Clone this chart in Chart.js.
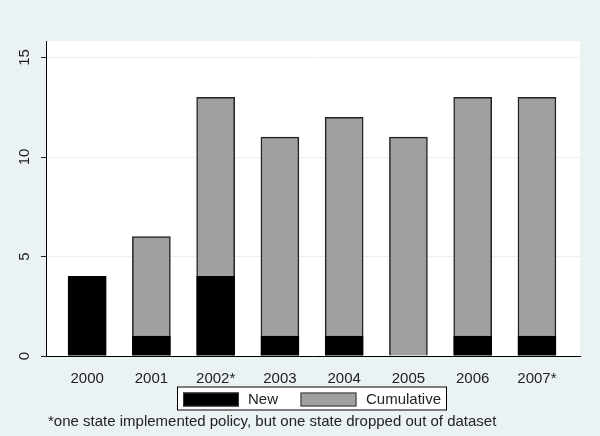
<!DOCTYPE html>
<html>
<head>
<meta charset="utf-8">
<script src="https://cdn.jsdelivr.net/npm/chart.js@4.4.1/dist/chart.umd.min.js"></script>
<style>
    html, body { margin: 0; padding: 0; background: #eaf2f3; }
    canvas { display: block; }
</style>
</head>
<body>
<canvas id="policy-chart" width="600" height="436"></canvas>
<script>
// --- данные ---
const years = ['2000', '2001', '2002*', '2003', '2004', '2005', '2006', '2007*'];
const newStates = [4, 1, 4, 1, 1, 0, 1, 1];
const cumulativeStates = [4, 6, 13, 11, 12, 11, 13, 13];
const yTicks = [0, 5, 10, 15];
const footnote = '*one state implemented policy, but one state dropped out of dataset';

const FONT = '"Liberation Sans", Arial, sans-serif';

// фон, белая область графика, подписи оси Y, легенда и сноска
const stataLook = {
    id: 'stataLook',
    beforeDraw(chart) {
        const { ctx, chartArea: a } = chart;
        ctx.save();
        ctx.fillStyle = '#eaf2f3';
        ctx.fillRect(0, 0, chart.width, chart.height);
        ctx.fillStyle = '#ffffff';
        ctx.fillRect(a.left, a.top, a.right - a.left, a.bottom - a.top);
        ctx.restore();
    },
    afterDraw(chart) {
        const { ctx } = chart;
        const yScale = chart.scales.y;
        ctx.save();
        ctx.fillStyle = '#222';
        ctx.font = '15px ' + FONT;
        ctx.textAlign = 'center';
        ctx.textBaseline = 'middle';
        yTicks.forEach(v => {
            ctx.save();
            ctx.translate(25, yScale.getPixelForValue(v));
            ctx.rotate(-Math.PI / 2);
            ctx.fillText(String(v), 0, 0);
            ctx.restore();
        });

        // легенда в рамке
        const box = { x: 177, y: 386.5, w: 270, h: 24 };
        ctx.fillStyle = '#fff';
        ctx.fillRect(box.x, box.y, box.w, box.h);
        ctx.strokeStyle = '#000';
        ctx.lineWidth = 1;
        ctx.strokeRect(box.x + 0.5, box.y + 0.5, box.w - 1, box.h - 1);

        const items = [
            { sx: 183, tx: 248 },
            { sx: 300.5, tx: 366 }
        ];
        chart.data.datasets.forEach((ds, i) => {
            const it = items[i];
            ctx.fillStyle = ds.backgroundColor;
            ctx.fillRect(it.sx, 392.5, 56, 14);
            ctx.strokeStyle = '#333';
            ctx.strokeRect(it.sx + 0.5, 393, 55, 13);
            ctx.fillStyle = '#222';
            ctx.textAlign = 'left';
            ctx.fillText(ds.label, it.tx, 399.5);
        });

        ctx.textAlign = 'left';
        ctx.fillText(footnote, 48, 422);
        ctx.restore();
    }
};

new Chart(document.getElementById('policy-chart'), {
    type: 'bar',
    data: {
        labels: years,
        datasets: [
            {
                label: 'New',
                data: newStates.map((v, i) => ({ x: i, y: v })),
                backgroundColor: '#000000',
                borderColor: '#000000',
                borderWidth: 1,
                order: 0
            },
            {
                label: 'Cumulative',
                data: cumulativeStates.map((v, i) => ({ x: i, y: v })),
                backgroundColor: '#a0a0a0',
                borderColor: '#222222',
                borderWidth: 1.5,
                order: 1
            }
        ]
    },
    options: {
        responsive: false,
        animation: false,
        grouped: false,
        barThickness: 38,
        layout: { padding: { top: 41, right: 20, bottom: 50, left: 0 } },
        plugins: {
            legend: { display: false },
            tooltip: { enabled: false }
        },
        scales: {
            x: {
                type: 'linear',
                offset: false,
                min: -0.64,
                max: 7.67,
                afterBuildTicks: axis => { axis.ticks = years.map((_, i) => ({ value: i })); },
                afterFit: axis => { axis.height = 30; },
                grid: { display: false, offset: false },
                border: { display: true, color: '#000', width: 1 },
                ticks: {
                    autoSkip: false,
                    maxRotation: 0,
                    padding: 6,
                    color: '#222',
                    font: { family: FONT, size: 15 },
                    callback: v => years[v]
                }
            },
            y: {
                min: 0,
                max: 15.83,
                afterBuildTicks: axis => { axis.ticks = yTicks.map(v => ({ value: v })); },
                afterFit: axis => { axis.width = 46; },
                grid: { color: '#e9f0f1', tickColor: '#222', tickLength: 5 },
                border: { display: true, color: '#000', width: 1 },
                ticks: { display: false }
            }
        }
    },
    plugins: [stataLook]
});
</script>
</body>
</html>
